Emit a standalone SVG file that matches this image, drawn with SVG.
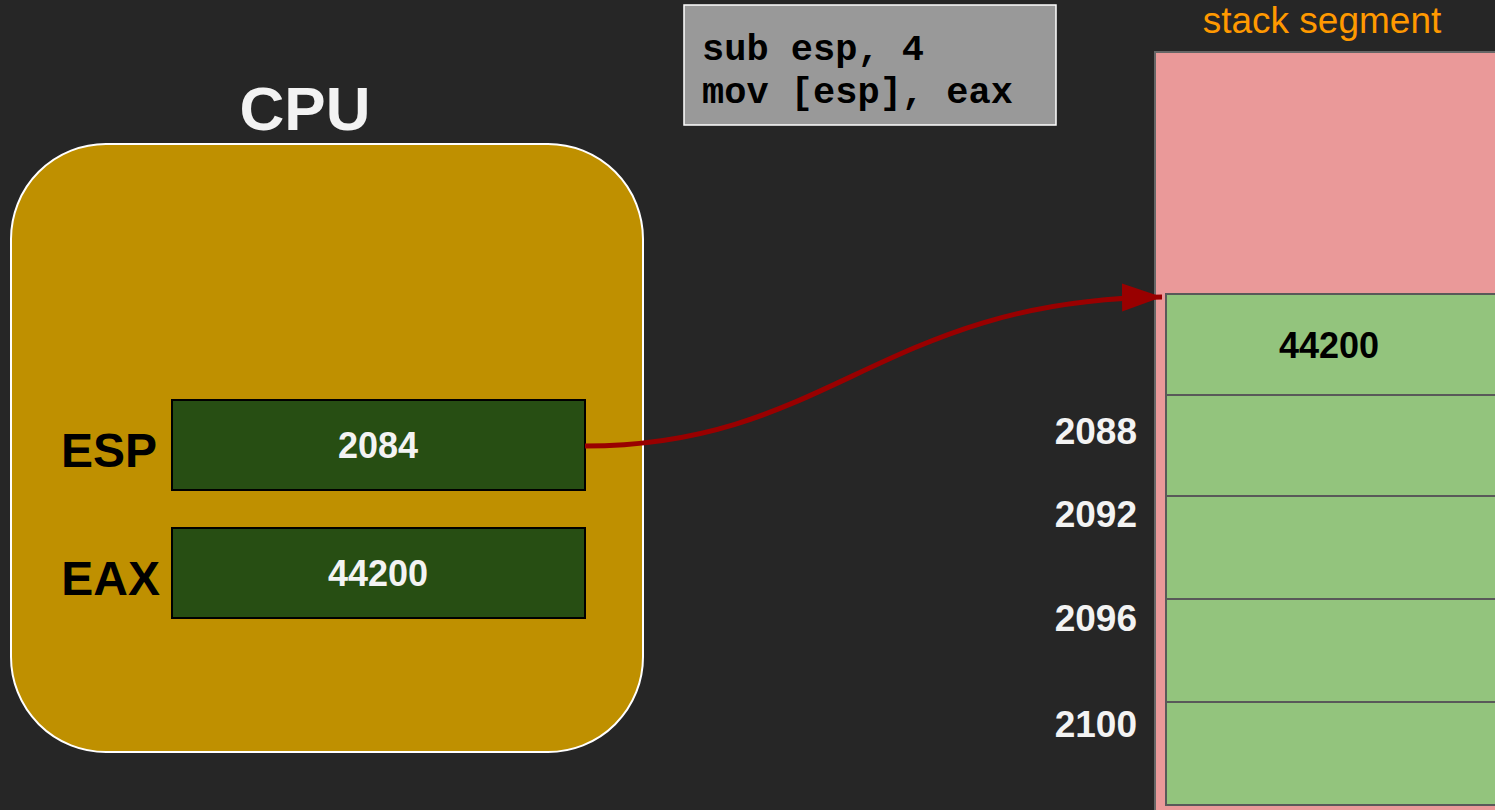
<svg xmlns="http://www.w3.org/2000/svg" width="1495" height="810" viewBox="0 0 1495 810">
<defs>
<style>
.lbl{font-family:"Liberation Sans",Arial,sans-serif;font-weight:bold}
.addr{font-size:37px;fill:#f3f3f3;text-anchor:end}
.reg{fill:#274e13;stroke:#000;stroke-width:2}
.regtxt{font-size:36px;fill:#f3f3f3;text-anchor:middle}
.regname{font-size:48px;fill:#000;text-anchor:end}
.cell{fill:#93c47d;stroke:#595959;stroke-width:2}
.code{font-family:"Liberation Mono","Courier New",monospace;font-weight:bold;font-size:37px;fill:#000}
</style>
<marker id="ah" markerUnits="userSpaceOnUse" markerWidth="44" markerHeight="30" refX="40" refY="14" orient="auto">
<path d="M0,0 L40,14 L0,28 Z" fill="#990000"/>
</marker>
</defs>
<rect width="1495" height="810" fill="#262626"/>

<g id="code">
<rect x="684" y="5" width="372" height="120" fill="#999999" stroke="#ffffff" stroke-width="1.5"/>
<text class="code" x="702" y="60">sub esp, 4</text>
<text class="code" x="702" y="103">mov [esp], eax</text>
</g>

<g id="stack-segment">
<text x="1322" y="33" font-family="'Liberation Sans',Arial,sans-serif" font-size="37" fill="#ff9900" text-anchor="middle">stack segment</text>
<rect x="1155" y="52" width="345" height="765" fill="#ea9999" stroke="#666666" stroke-width="2"/>
</g>

<g id="cell-2084">
<rect class="cell" x="1166" y="294" width="330" height="101"/>
<text class="lbl regtxt" x="1329" y="358" style="fill:#000">44200</text>
</g>
<g id="cell-2088">
<rect class="cell" x="1166" y="395" width="330" height="101"/>
<text class="lbl addr" x="1137" y="444">2088</text>
</g>
<g id="cell-2092">
<rect class="cell" x="1166" y="496" width="330" height="103"/>
<text class="lbl addr" x="1137" y="527">2092</text>
</g>
<g id="cell-2096">
<rect class="cell" x="1166" y="599" width="330" height="103"/>
<text class="lbl addr" x="1137" y="631">2096</text>
</g>
<g id="cell-2100">
<rect class="cell" x="1166" y="702" width="330" height="103"/>
<text class="lbl addr" x="1137" y="737">2100</text>
</g>

<g id="cpu">
<text class="lbl" x="305" y="130" font-size="62" fill="#f3f3f3" text-anchor="middle">CPU</text>
<rect x="11" y="144" width="632" height="608" rx="95" ry="95" fill="#bf9000" stroke="#ffffff" stroke-width="2"/>
</g>

<g id="esp">
<text class="lbl regname" x="157" y="467">ESP</text>
<rect class="reg" x="172" y="400" width="413" height="90"/>
<text class="lbl regtxt" x="378" y="458">2084</text>
</g>

<g id="eax">
<text class="lbl regname" x="160" y="595">EAX</text>
<rect class="reg" x="172" y="528" width="413" height="90"/>
<text class="lbl regtxt" x="378" y="586">44200</text>
</g>

<g id="connectors">
<path d="M585,446 C830,446 880,300 1162,297" fill="none" stroke="#990000" stroke-width="5" marker-end="url(#ah)"/>
</g>
</svg>
